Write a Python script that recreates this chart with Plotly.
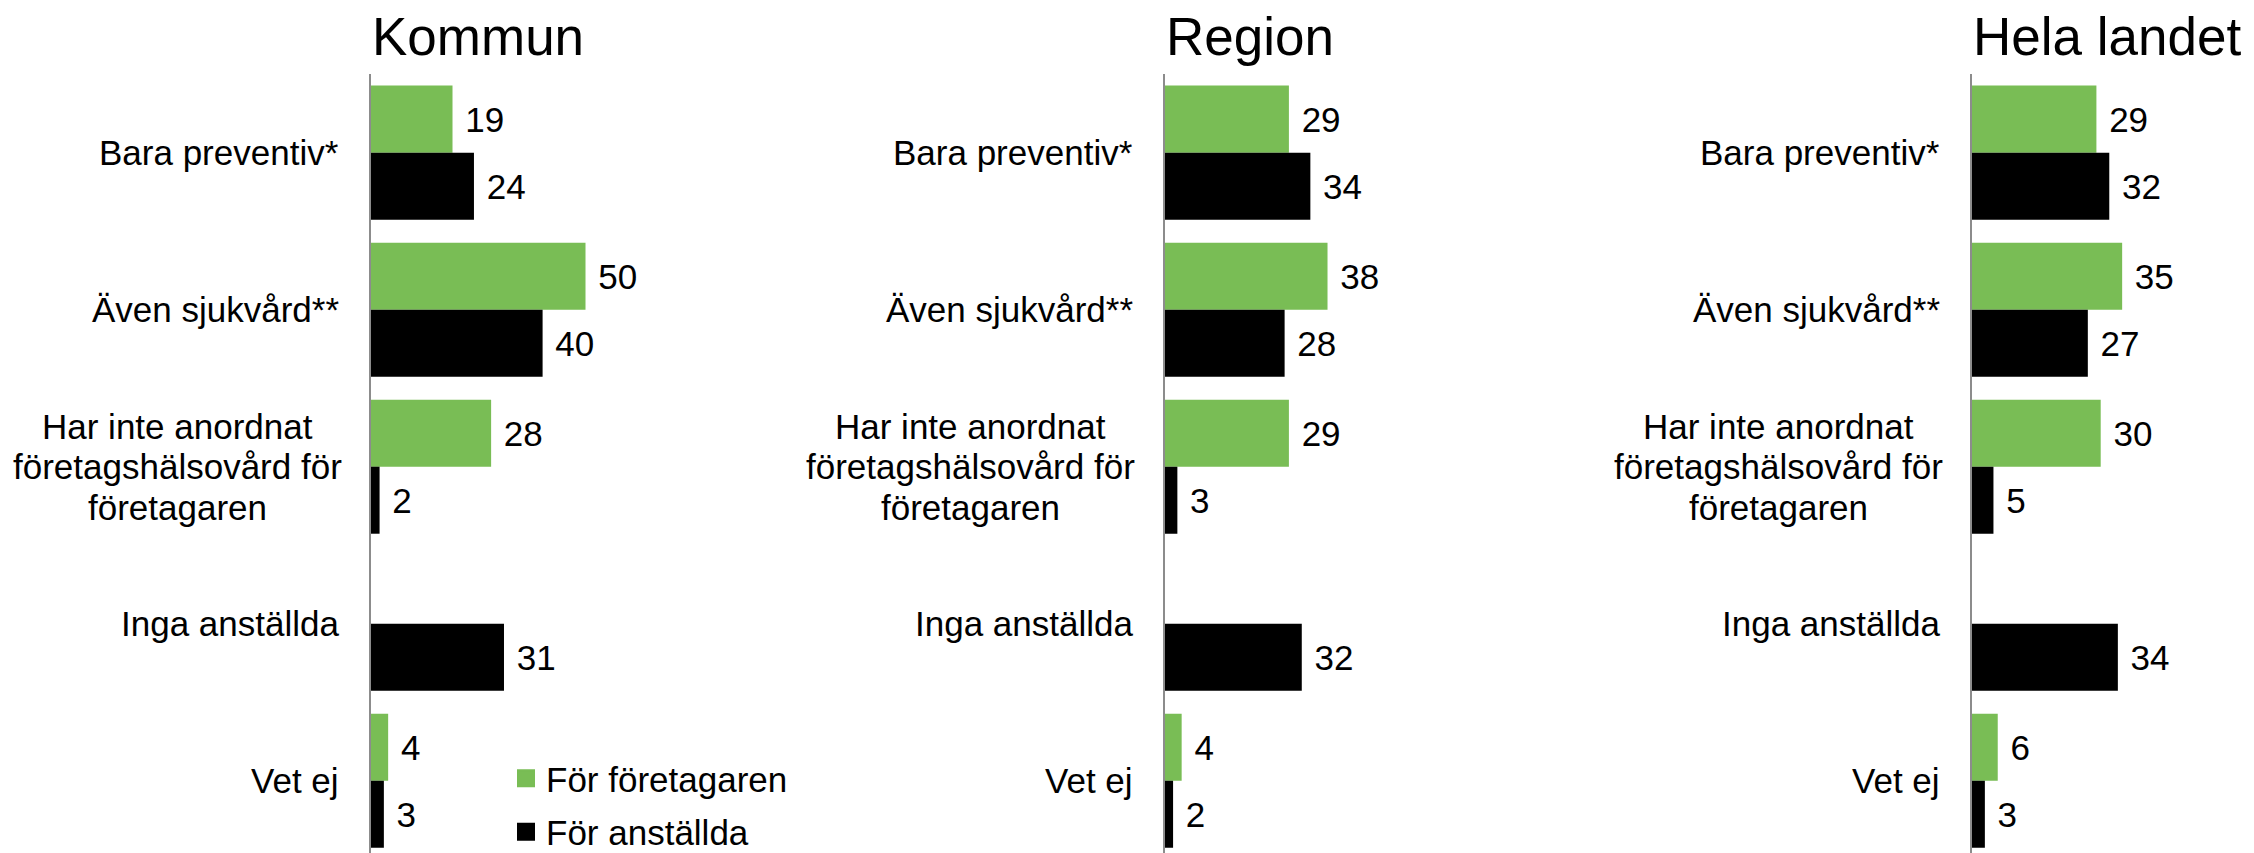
import plotly.graph_objects as go

categories = ["Bara preventiv*", "Även sjukvård**", "Har inte anordnat företagshälsovård för företagaren",
              "Inga anställda", "Vet ej"]
category_lines = [["Bara preventiv*"], ["Även sjukvård**"],
                  ["Har inte anordnat", "företagshälsovård för", "företagaren"],
                  ["Inga anställda"], ["Vet ej"]]
panels = ["Kommun", "Region", "Hela landet"]
series_names = ["För företagaren", "För anställda"]

kommun_foretagaren = [19, 50, 28, None, 4]
kommun_anstallda = [24, 40, 2, 31, 3]
region_foretagaren = [29, 38, 29, None, 4]
region_anstallda = [34, 28, 3, 32, 2]
landet_foretagaren = [29, 35, 30, None, 6]
landet_anstallda = [32, 27, 5, 34, 3]

panel_data = [
    (kommun_foretagaren, kommun_anstallda),
    (region_foretagaren, region_anstallda),
    (landet_foretagaren, landet_anstallda),
]

GREEN = "#79BD55"
BLACK = "#000000"
colors = [GREEN, BLACK]
FONT = "Liberation Sans, Arial, sans-serif"

# page is 2254x853; the html body has an 8px margin, so the figure is offset by 8px
W, H = 2254, 853
OFF = 8
FW, FH = W - OFF, H - OFF
axis_page = [371, 1164.5, 1972]
xmax = 60
px_per_unit = 4.29
top_page = 74
top_fig = top_page - OFF
plot_h = FH - top_fig
LS = 40.5  # line spacing of multi-line category labels (px)


def fxp(page_x):
    return (page_x - OFF) / FW


fig = go.Figure()
layout = dict(
    width=FW, height=FH,
    margin=dict(l=0, r=0, t=top_fig, b=0, pad=0, autoexpand=False),
    paper_bgcolor="white", plot_bgcolor="white",
    barmode="group", bargap=0.146, bargroupgap=0,
    font=dict(family=FONT, size=35, color="black"),
    showlegend=True,
    legend=dict(
        x=fxp(506), xanchor="left",
        y=(FH - (749 - OFF)) / plot_h, yanchor="top",
        font=dict(size=35, family=FONT, color="black"),
        traceorder="grouped", tracegroupgap=5,
        bgcolor="rgba(0,0,0,0)", borderwidth=0,
    ),
)

annotations = []
for p, (name, ax0) in enumerate(zip(panels, axis_page)):
    suffix = "" if p == 0 else str(p + 1)
    xa = "x" + suffix
    ya = "y" + suffix
    for s, vals in enumerate(panel_data[p]):
        fig.add_trace(go.Bar(
            x=vals, y=list(range(len(categories))), orientation="h",
            name=series_names[s], legendgroup=series_names[s],
            showlegend=False,
            marker=dict(color=colors[s], line=dict(width=0)),
            text=["" if v is None else "\u00a0" + str(v) for v in vals],
            textposition="outside", constraintext="none", cliponaxis=False,
            textfont=dict(size=35, color="black", family=FONT),
            xaxis=xa, yaxis=ya, hoverinfo="skip",
        ))
    layout["xaxis" + suffix] = dict(
        domain=[fxp(ax0), fxp(ax0 + xmax * px_per_unit)], range=[0, xmax],
        visible=False, anchor=ya, fixedrange=True,
    )
    layout["yaxis" + suffix] = dict(
        domain=[0, 1], range=[4.4605, -0.501], anchor=xa,
        showticklabels=False, showgrid=False, zeroline=False,
        showline=True, linecolor="#8C8C8C", linewidth=1.5, ticks="",
        type="linear", fixedrange=True,
    )
    annotations.append(dict(
        text=name, xref="paper", yref="paper", x=fxp(ax0 - 1), y=1,
        xanchor="left", yanchor="bottom", yshift=6, showarrow=False,
        font=dict(size=53, family=FONT, color="black"),
    ))
    for i, lines in enumerate(category_lines):
        n = len(lines)
        for k, line in enumerate(lines):
            if n == 1:
                xpos, xanc = fxp(ax0 - 30), "right"
            else:
                xpos, xanc = fxp(ax0 - 194), "center"
            annotations.append(dict(
                text=line, xref="paper", yref=ya, x=xpos, y=i,
                xanchor=xanc, yanchor="middle", showarrow=False,
                yshift=((n - 1) / 2 - k) * LS,
                font=dict(size=35, family=FONT, color="black"),
            ))

# legend entries
for s, name in enumerate(series_names):
    fig.add_trace(go.Scatter(
        x=[None], y=[None], mode="markers", name=name, legendgroup=name,
        marker=dict(symbol="square", size=16, color=colors[s],
                    line=dict(width=2, color=colors[s])),
        showlegend=True, xaxis="x", yaxis="y", hoverinfo="skip",
    ))

layout["annotations"] = annotations
fig.update_layout(**layout)
fig.write_html("out.html")
